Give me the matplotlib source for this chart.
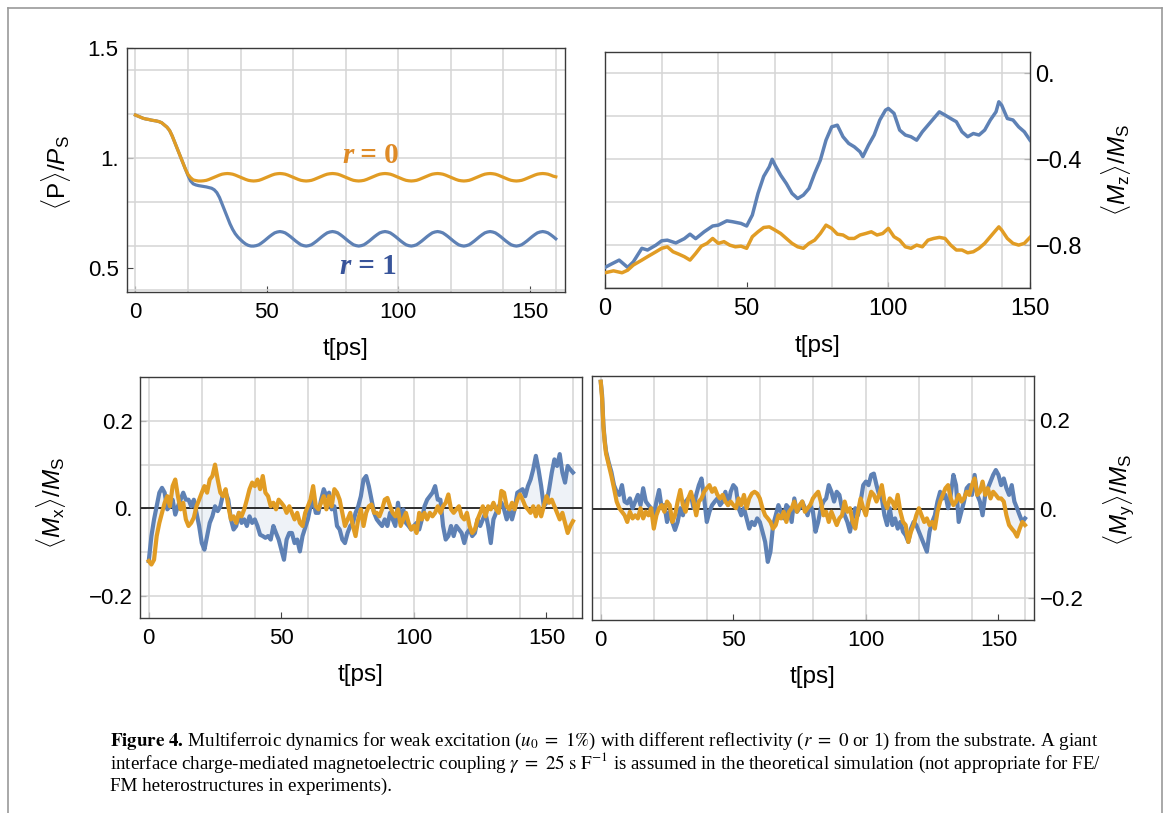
import numpy as np
import matplotlib
matplotlib.use("Agg")
import matplotlib.pyplot as plt
from matplotlib.ticker import MultipleLocator, FixedLocator, FixedFormatter
from matplotlib.lines import Line2D
from matplotlib.offsetbox import TextArea, HPacker, AnnotationBbox

plt.rcParams["font.family"] = ["Liberation Sans", "DejaVu Sans"]
plt.rcParams["mathtext.fontset"] = "custom"
plt.rcParams["mathtext.rm"] = "Liberation Sans"
plt.rcParams["mathtext.it"] = "Liberation Sans:italic"
plt.rcParams["mathtext.bf"] = "Liberation Sans:bold"

BLUE = "#5E81B5"
ORANGE = "#E19C24"

# ---- <P>/Ps, t = 0..160 ps (1 ps steps) ----
t_p = np.arange(0, 161)
p_r0 = [
    1.195, 1.190, 1.185, 1.180, 1.177, 1.175, 1.172, 1.170, 1.168, 1.165,
    1.160, 1.150, 1.140, 1.125, 1.100, 1.070, 1.040, 1.010, 0.980, 0.950,
    0.925, 0.910, 0.900, 0.897, 0.895, 0.895, 0.896, 0.898, 0.902, 0.907,
    0.912, 0.917, 0.922, 0.926, 0.928, 0.929, 0.928, 0.926, 0.922, 0.917,
    0.912, 0.907, 0.902, 0.898, 0.896, 0.895, 0.896, 0.898, 0.902, 0.907,
    0.912, 0.917, 0.922, 0.926, 0.928, 0.929, 0.928, 0.926, 0.922, 0.917,
    0.912, 0.907, 0.902, 0.898, 0.896, 0.895, 0.896, 0.898, 0.902, 0.907,
    0.912, 0.917, 0.922, 0.926, 0.928, 0.929, 0.928, 0.926, 0.922, 0.917,
    0.912, 0.907, 0.902, 0.898, 0.896, 0.895, 0.896, 0.898, 0.902, 0.907,
    0.912, 0.917, 0.922, 0.926, 0.928, 0.929, 0.928, 0.926, 0.922, 0.917,
    0.912, 0.907, 0.902, 0.898, 0.896, 0.895, 0.896, 0.898, 0.902, 0.907,
    0.912, 0.917, 0.922, 0.926, 0.928, 0.929, 0.928, 0.926, 0.922, 0.917,
    0.912, 0.907, 0.902, 0.898, 0.896, 0.895, 0.896, 0.898, 0.902, 0.907,
    0.912, 0.917, 0.922, 0.926, 0.928, 0.929, 0.928, 0.926, 0.922, 0.917,
    0.912, 0.907, 0.902, 0.898, 0.896, 0.895, 0.896, 0.898, 0.902, 0.907,
    0.912, 0.917, 0.922, 0.926, 0.928, 0.929, 0.928, 0.926, 0.922, 0.917,
    0.914,
]
p_r1 = [
    1.195, 1.190, 1.185, 1.180, 1.177, 1.175, 1.172, 1.170, 1.168, 1.165,
    1.160, 1.150, 1.140, 1.125, 1.100, 1.070, 1.040, 1.010, 0.980, 0.950,
    0.920, 0.895, 0.882, 0.877, 0.874, 0.872, 0.870, 0.868, 0.865, 0.862,
    0.855, 0.842, 0.820, 0.790, 0.760, 0.730, 0.700, 0.675, 0.655, 0.640,
    0.628, 0.617, 0.608, 0.602, 0.599, 0.599, 0.601, 0.605, 0.613, 0.622,
    0.632, 0.642, 0.651, 0.659, 0.663, 0.665, 0.663, 0.659, 0.651, 0.642,
    0.632, 0.622, 0.613, 0.605, 0.601, 0.599, 0.601, 0.605, 0.613, 0.622,
    0.632, 0.642, 0.651, 0.659, 0.663, 0.665, 0.663, 0.659, 0.651, 0.642,
    0.632, 0.622, 0.613, 0.605, 0.601, 0.599, 0.601, 0.605, 0.613, 0.622,
    0.632, 0.642, 0.651, 0.659, 0.663, 0.665, 0.663, 0.659, 0.651, 0.642,
    0.632, 0.622, 0.613, 0.605, 0.601, 0.599, 0.601, 0.605, 0.613, 0.622,
    0.632, 0.642, 0.651, 0.659, 0.663, 0.665, 0.663, 0.659, 0.651, 0.642,
    0.632, 0.622, 0.613, 0.605, 0.601, 0.599, 0.601, 0.605, 0.613, 0.622,
    0.632, 0.642, 0.651, 0.659, 0.663, 0.665, 0.663, 0.659, 0.651, 0.642,
    0.632, 0.622, 0.613, 0.605, 0.601, 0.599, 0.601, 0.605, 0.613, 0.622,
    0.632, 0.642, 0.651, 0.659, 0.663, 0.665, 0.663, 0.659, 0.651, 0.642,
    0.632,
]

# ---- <Mz>/Ms ----
t_mz_r1 = [0, 2, 5, 8, 10, 13, 15, 18, 20, 22, 25, 28, 30, 32, 35, 38, 40, 43, 45, 48,
           50, 52, 54, 56, 58, 59, 60, 62, 64, 66, 68, 70, 72, 74, 76, 78, 80, 82, 84, 86,
           88, 90, 91, 93, 95, 97, 99, 100, 102, 104, 106, 108, 110, 112, 114, 116, 118,
           120, 122, 124, 126, 128, 130, 132, 134, 136, 138, 139, 140, 142, 144, 146, 148, 150]
mz_r1 = [-0.904, -0.890, -0.870, -0.904, -0.878, -0.815, -0.823, -0.800, -0.780, -0.777,
         -0.790, -0.770, -0.749, -0.770, -0.738, -0.711, -0.707, -0.687, -0.691, -0.699,
         -0.711, -0.660, -0.559, -0.480, -0.435, -0.400, -0.427, -0.474, -0.513, -0.559,
         -0.583, -0.567, -0.536, -0.466, -0.404, -0.311, -0.249, -0.241, -0.295, -0.326,
         -0.342, -0.365, -0.388, -0.334, -0.287, -0.217, -0.171, -0.163, -0.186, -0.264,
         -0.287, -0.295, -0.311, -0.272, -0.241, -0.210, -0.179, -0.194, -0.210, -0.225,
         -0.272, -0.295, -0.280, -0.287, -0.264, -0.217, -0.179, -0.132, -0.148, -0.210,
         -0.217, -0.249, -0.272, -0.311]
t_mz_r0 = [0, 3, 6, 8, 10, 13, 15, 18, 20, 22, 24, 26, 28, 30, 32, 34, 36, 38, 40, 42,
           44, 46, 48, 50, 52, 54, 56, 58, 60, 62, 64, 66, 68, 70, 72, 74, 76, 78, 80, 82,
           84, 86, 88, 90, 92, 94, 96, 98, 100, 102, 104, 106, 108, 110, 112, 114, 116, 118,
           120, 122, 124, 126, 128, 130, 132, 134, 136, 138, 139, 140, 142, 144, 146, 148, 150]
mz_r0 = [-0.929, -0.920, -0.929, -0.917, -0.893, -0.870, -0.854, -0.831, -0.815, -0.808,
         -0.831, -0.842, -0.854, -0.870, -0.839, -0.805, -0.792, -0.769, -0.792, -0.784,
         -0.800, -0.808, -0.805, -0.815, -0.761, -0.738, -0.718, -0.715, -0.730, -0.746,
         -0.769, -0.792, -0.808, -0.815, -0.792, -0.777, -0.746, -0.707, -0.722, -0.749,
         -0.753, -0.769, -0.769, -0.753, -0.746, -0.738, -0.753, -0.746, -0.722, -0.761,
         -0.777, -0.808, -0.815, -0.800, -0.808, -0.777, -0.769, -0.764, -0.769, -0.800,
         -0.823, -0.823, -0.836, -0.831, -0.815, -0.792, -0.761, -0.730, -0.715, -0.730,
         -0.769, -0.792, -0.800, -0.792, -0.764]

# ---- <Mx>/Ms, t = 0..160 ps ----
t_mx = np.arange(0, 161)
mx_r1 = [
    -0.120, -0.063, -0.025, 0.005, 0.036, 0.047, 0.036, -0.002, 0.005, 0.020,
    -0.014, 0.005, 0.020, 0.036, 0.020, 0.020, 0.005, 0.020, -0.010, -0.040,
    -0.079, -0.094, -0.063, -0.033, -0.018, 0.005, -0.006, 0.005, 0.032, 0.036,
    0.020, -0.025, -0.048, -0.040, -0.010, -0.033, -0.025, -0.040, -0.018, -0.033,
    -0.025, -0.040, -0.060, -0.063, -0.067, -0.063, -0.071, -0.040, -0.056, -0.071,
    -0.094, -0.117, -0.071, -0.056, -0.056, -0.079, -0.071, -0.098, -0.063, -0.044,
    -0.025, 0.005, 0.020, -0.010, -0.010, 0.020, 0.044, 0.028, 0.036, -0.002,
    0.005, -0.040, -0.048, -0.071, -0.079, -0.056, -0.040, -0.033, -0.010, 0.005,
    0.028, 0.066, 0.074, 0.051, 0.020, -0.010, -0.025, -0.033, -0.040, -0.025,
    -0.040, -0.010, -0.025, -0.040, 0.013, -0.033, -0.002, -0.033, -0.040, -0.048,
    -0.040, -0.033, -0.048, -0.025, 0.005, 0.020, 0.028, 0.036, 0.051, 0.020,
    0.020, -0.040, -0.071, -0.063, -0.040, -0.063, -0.040, -0.048, -0.056, -0.079,
    -0.056, -0.048, -0.063, -0.056, -0.025, -0.040, -0.025, -0.010, -0.040, -0.079,
    -0.025, -0.010, 0.005, 0.013, -0.002, -0.025, -0.002, -0.025, -0.002, 0.036,
    0.040, 0.044, 0.028, 0.051, 0.066, 0.089, 0.120, 0.089, 0.051, 0.005,
    0.013, 0.044, 0.082, 0.112, 0.097, 0.124, 0.082, 0.059, 0.097, 0.089, 0.082,
]
mx_r0 = [
    -0.120, -0.128, -0.117, -0.063, -0.033, -0.010, 0.013, 0.028, 0.005, 0.051,
    0.066, 0.028, -0.002, 0.013, -0.025, -0.040, -0.033, -0.021, 0.005, 0.020,
    0.036, 0.051, 0.036, 0.066, 0.074, 0.100, 0.066, 0.036, 0.028, 0.044,
    0.005, -0.025, -0.018, -0.033, -0.010, -0.018, -0.002, 0.020, 0.044, 0.059,
    0.051, 0.066, 0.044, 0.074, 0.036, 0.028, 0.005, 0.013, -0.002, 0.020,
    0.013, 0.005, -0.010, 0.005, -0.010, -0.025, -0.010, -0.033, -0.040, -0.010,
    0.005, 0.020, 0.051, 0.005, -0.002, 0.013, 0.028, -0.002, 0.028, 0.005,
    0.044, 0.036, 0.020, -0.010, -0.040, -0.025, -0.010, -0.040, -0.063, -0.025,
    -0.002, -0.040, -0.010, 0.005, 0.009, -0.010, -0.010, -0.018, -0.002, 0.020,
    0.024, 0.005, -0.010, -0.018, -0.002, -0.040, -0.025, -0.010, -0.033, -0.048,
    -0.040, -0.056, -0.010, -0.025, -0.010, -0.025, -0.010, -0.018, -0.010, 0.005,
    -0.010, 0.005, 0.013, 0.032, -0.002, -0.010, -0.002, 0.005, -0.018, -0.025,
    -0.010, -0.040, -0.056, -0.048, -0.025, -0.010, 0.005, -0.018, 0.005, -0.002,
    0.013, -0.002, -0.010, 0.040, 0.036, 0.005, -0.002, 0.013, -0.002, 0.020,
    0.032, 0.020, 0.005, -0.002, -0.010, 0.005, -0.018, 0.005, -0.018, 0.005,
    0.028, 0.013, 0.020, 0.005, -0.010, -0.025, -0.010, -0.033, -0.056, -0.040, -0.029,
]

# ---- <My>/Ms ----
t_my = np.array([0, 0.5, 1, 1.5, 2, 3, 4] + list(range(5, 161)))
my_r1 = [
    0.287, 0.257, 0.190, 0.155, 0.130, 0.105, 0.084,
    0.054, 0.039, 0.032, 0.054, 0.017,
    0.013, 0.024, 0.002, 0.017, 0.032, 0.009, 0.047, 0.017, 0.009, 0.002,
    -0.014, 0.017, 0.043, 0.002, 0.009, -0.029, -0.006, -0.029, -0.047, -0.029,
    0.002, -0.014, 0.017, 0.024, 0.032, 0.002, 0.032, 0.054, 0.069, 0.024,
    -0.029, -0.006, 0.009, 0.017, 0.024, 0.009, 0.017, 0.039, 0.009, 0.039,
    0.054, 0.047, 0.002, -0.014, 0.002, -0.021, -0.044, -0.029, -0.036, -0.021,
    -0.029, -0.051, -0.074, -0.119, -0.096, -0.036, -0.014, 0.009, -0.006, -0.021,
    0.009, 0.002, -0.029, 0.024, -0.006, 0.002, 0.017, 0.002, -0.014, 0.009,
    -0.005, -0.051, -0.029, 0.002, 0.017, 0.024, 0.054, 0.039, 0.017, 0.039,
    0.032, 0.002, -0.014, -0.029, -0.051, -0.021, 0.002, -0.014, 0.017, 0.054,
    0.062, 0.054, 0.077, 0.080, 0.054, 0.032, 0.024, -0.014, -0.036, 0.002,
    -0.036, -0.021, -0.044, -0.029, -0.051, -0.059, -0.074, -0.044, -0.029, -0.036,
    -0.051, -0.066, -0.081, -0.096, -0.051, -0.029, -0.014, 0.017, 0.039, 0.024,
    0.032, 0.002, 0.032, 0.077, 0.054, -0.029, -0.006, 0.017, 0.047, 0.054,
    0.032, 0.077, 0.032, 0.017, -0.014, 0.032, 0.047, 0.062, 0.077, 0.088,
    0.077, 0.054, 0.069, 0.047, 0.032, 0.054, 0.017, 0.002, -0.014, -0.029, -0.021,
]
my_r0 = [
    0.287, 0.250, 0.185, 0.150, 0.125, 0.100, 0.075,
    0.047, 0.017, 0.002, -0.006, -0.014,
    -0.029, -0.006, -0.021, -0.014, -0.021, 0.002, -0.021, -0.006, -0.014, 0.002,
    -0.044, -0.014, 0.002, 0.009, -0.006, 0.017, 0.009, -0.029, -0.014, 0.017,
    0.043, 0.009, -0.006, 0.024, 0.039, 0.017, -0.014, 0.017, 0.024, 0.039,
    0.047, 0.054, 0.039, 0.047, 0.032, 0.024, 0.032, 0.017, 0.009, 0.017,
    0.009, 0.002, 0.024, 0.009, 0.032, 0.002, 0.024, 0.035, 0.039, 0.035,
    0.024, 0.002, -0.014, -0.021, -0.029, -0.044, -0.036, -0.014, -0.021, -0.006,
    -0.029, -0.006, 0.002, 0.017, -0.006, 0.009, 0.017, -0.006, 0.002, 0.009,
    0.024, 0.032, 0.039, 0.017, -0.014, -0.006, -0.029, -0.006, -0.021, -0.036,
    -0.021, -0.014, 0.017, -0.006, 0.002, -0.029, -0.044, -0.006, 0.024, 0.002,
    -0.014, 0.017, 0.039, 0.032, 0.017, 0.032, 0.054, 0.017, 0.002, 0.024,
    0.017, 0.002, 0.032, -0.006, -0.029, -0.036, -0.074, -0.051, -0.036, -0.014,
    0.002, -0.014, -0.029, -0.021, -0.036, -0.029, -0.044, -0.006, 0.017, 0.032,
    0.047, 0.054, 0.024, 0.009, 0.017, 0.032, 0.017, 0.024, 0.039, 0.032,
    0.054, 0.069, 0.032, 0.039, 0.062, 0.032, 0.047, 0.024, 0.039, 0.032,
    0.024, 0.024, 0.017, -0.014, -0.036, -0.044, -0.051, -0.062, -0.044, -0.029, -0.036,
]

W, H = 1169, 813
fig = plt.figure(figsize=(W / 100, H / 100), dpi=100)


def box(l, t, r, b):
    return [l / W, 1 - b / H, (r - l) / W, (b - t) / H]


def style(ax, tsize):
    for s in ax.spines.values():
        s.set_color("#3a3a3a")
        s.set_linewidth(1.0)
    ax.tick_params(which="major", direction="in", length=4, width=0.8,
                   color="#444444", labelsize=tsize)
    ax.tick_params(which="minor", length=0)
    ax.xaxis.remove_overlapping_locs = False
    ax.yaxis.remove_overlapping_locs = False
    ax.grid(which="minor", color="#d5d5d5", linewidth=1.1)
    ax.set_axisbelow(True)


# top left: polarization
ax1 = fig.add_axes(box(127, 48, 565, 292))
style(ax1, 16)
ax1.plot(t_p, p_r1, color=BLUE, lw=2.3, zorder=3)
ax1.plot(t_p, p_r0, color=ORANGE, lw=2.3, zorder=4)
ax1.set_xlim(-3.2, 163.5)
ax1.set_ylim(0.39, 1.5)
ax1.xaxis.set_major_locator(FixedLocator([0, 50, 100, 150]))
ax1.xaxis.set_minor_locator(MultipleLocator(20))
ax1.yaxis.set_major_locator(FixedLocator([0.5, 1.0, 1.5]))
ax1.yaxis.set_major_formatter(FixedFormatter(["0.5", "1.", "1.5"]))
ax1.yaxis.set_minor_locator(MultipleLocator(0.2))
ax1.tick_params(axis="x", pad=7)
ax1.tick_params(axis="y", pad=6)
ax1.set_xlabel("t[ps]", fontsize=17.5, va="center")
ax1.xaxis.set_label_coords(0.5, -0.234)
ax1.set_ylabel(r"$\langle\mathrm{P}\rangle/P_\mathrm{S}$", fontsize=17.5, va="center")
ax1.yaxis.set_label_coords(-0.163, 0.488)


def rlabel(ax, xy, digit, color):
    parts = [TextArea("r", textprops=dict(family="Liberation Serif", style="italic",
                                          weight="bold", size=21, color=color)),
             TextArea(" = " + digit, textprops=dict(family="Liberation Serif",
                                                    weight="bold", size=21, color=color))]
    pack = HPacker(children=parts, align="baseline", pad=0, sep=0)
    ab = AnnotationBbox(pack, xy, xycoords="data", frameon=False, box_alignment=(0.5, 0.5))
    ax.add_artist(ab)


rlabel(ax1, (89.5, 1.01), "0", "#DF8B27")
rlabel(ax1, (88.5, 0.505), "1", "#38549A")

# top right: Mz
ax2 = fig.add_axes(box(605, 52, 1030, 288))
style(ax2, 17)
ax2.plot(t_mz_r1, mz_r1, color=BLUE, lw=2.5, zorder=3)
ax2.plot(t_mz_r0, mz_r0, color=ORANGE, lw=2.5, zorder=4)
ax2.set_xlim(0, 150)
ax2.set_ylim(-1.0, 0.1)
ax2.xaxis.set_major_locator(FixedLocator([0, 50, 100, 150]))
ax2.xaxis.set_minor_locator(MultipleLocator(20))
ax2.yaxis.tick_right()
ax2.yaxis.set_label_position("right")
ax2.yaxis.set_major_locator(FixedLocator([0.0, -0.4, -0.8]))
ax2.yaxis.set_major_formatter(FixedFormatter(["0.", "\u22120.4", "\u22120.8"]))
ax2.yaxis.set_minor_locator(MultipleLocator(0.2))
ax2.tick_params(axis="x", pad=7)
ax2.tick_params(axis="y", pad=4)
ax2.set_xlabel("t[ps]", fontsize=17.5, va="center")
ax2.xaxis.set_label_coords(0.5, -0.244)
ax2.set_ylabel(r"$\langle M_\mathrm{z}\rangle/M_\mathrm{S}$", fontsize=17.5,
               rotation=90, va="center")
ax2.yaxis.set_label_coords(1.202, 0.50)


def mpanel(ax, t, b, o, right):
    style(ax, 16)
    ax.fill_between(t, b, o, color=BLUE, alpha=0.1, linewidth=0, zorder=1.5)
    ax.axhline(0, color="black", lw=1.1, zorder=2)
    ax.plot(t, b, color=BLUE, lw=3.0, zorder=3)
    ax.plot(t, o, color=ORANGE, lw=3.0, zorder=4)
    ax.set_xlim(-3.3, 163.4)
    ax.set_ylim(-0.25, 0.30)
    ax.xaxis.set_major_locator(FixedLocator([0, 50, 100, 150]))
    ax.xaxis.set_minor_locator(MultipleLocator(20))
    ax.yaxis.set_major_locator(FixedLocator([-0.2, 0.0, 0.2]))
    ax.yaxis.set_major_formatter(FixedFormatter(["\u22120.2", "0.", "0.2"]))
    ax.yaxis.set_minor_locator(MultipleLocator(0.1))
    ax.tick_params(axis="x", pad=7)
    if right:
        ax.yaxis.tick_right()
        ax.yaxis.set_label_position("right")
        ax.tick_params(axis="y", pad=4)
    else:
        ax.tick_params(axis="y", pad=5)


ax3 = fig.add_axes(box(140, 377, 582, 618))
mpanel(ax3, t_mx, mx_r1, mx_r0, False)
ax3.set_xlabel("t[ps]", fontsize=17.5, va="center")
ax3.xaxis.set_label_coords(0.5, -0.235)
ax3.set_ylabel(r"$\langle M_\mathrm{x}\rangle/M_\mathrm{S}$", fontsize=17.5, va="center")
ax3.yaxis.set_label_coords(-0.202, 0.478)

ax4 = fig.add_axes(box(592, 376, 1034, 620))
mpanel(ax4, t_my, my_r1, my_r0, True)
ax4.set_xlabel("t[ps]", fontsize=17.5, va="center")
ax4.xaxis.set_label_coords(0.5, -0.233)
ax4.set_ylabel(r"$\langle M_\mathrm{y}\rangle/M_\mathrm{S}$", fontsize=17.5,
               rotation=90, va="center")
ax4.yaxis.set_label_coords(1.192, 0.49)

# page frame
fc = "#9a9a9a"
fig.add_artist(Line2D([8 / W, 8 / W], [0, 1 - 8 / H], color=fc, lw=1.2))
fig.add_artist(Line2D([8 / W, 1162 / W], [1 - 8 / H, 1 - 8 / H], color=fc, lw=1.2))
fig.add_artist(Line2D([1162 / W, 1162 / W], [0, 1 - 8 / H], color=fc, lw=1.2))

# caption
cap = [
    r"$\mathbf{Figure\ 4.}\,$Multiferroic dynamics for weak excitation ($u_0\ =\ 1\%$) "
    r"with different reflectivity ($r\ =\ 0$ or 1) from the substrate. A giant",
    r"interface charge-mediated magnetoelectric coupling $\gamma\ =\ 25\ \mathrm{s\ F}^{-1}$"
    r" is assumed in the theoretical simulation (not appropriate for FE/",
    "FM heterostructures in experiments).",
]
for i, line in enumerate(cap):
    fig.text(110 / W, 1 - (746 + 22.5 * i) / H, line, family="Liberation Serif",
             math_fontfamily="stix", fontsize=13.7, va="baseline", ha="left")

fig.savefig("out.png", dpi=100)
